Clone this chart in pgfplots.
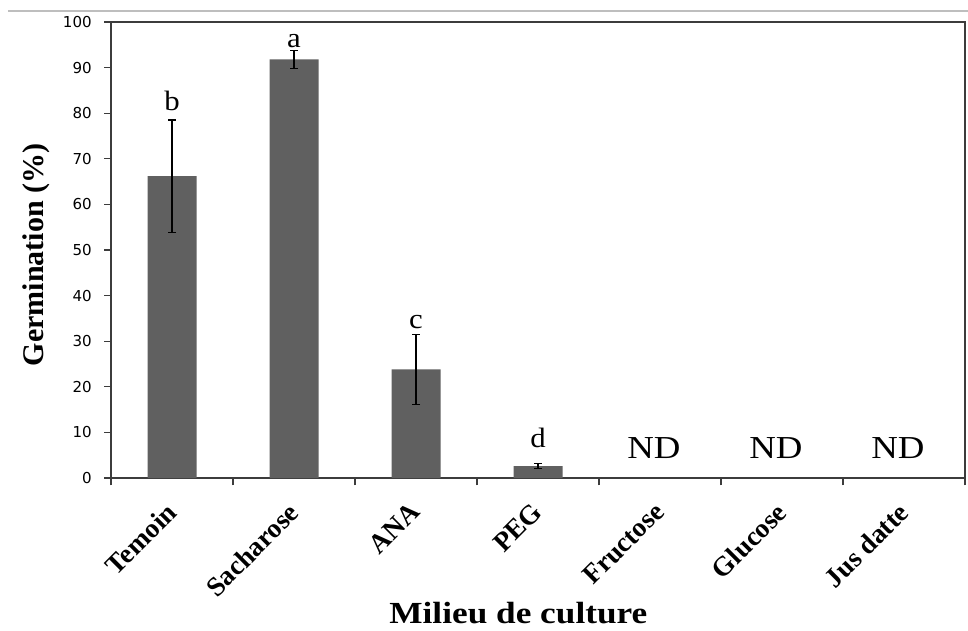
\documentclass[border=0pt]{standalone}
\usepackage{fontspec}
\setmainfont{Liberation Serif}
\newfontfamily\ticksfont{DejaVu Sans}
\usepackage{pgfplots}
\pgfplotsset{compat=1.18}

\definecolor{barfill}{RGB}{96,96,96}
\definecolor{axisline}{RGB}{60,60,60}
\definecolor{topline}{RGB}{190,190,190}

\begin{document}
\begin{tikzpicture}
\begin{axis}[
  name=ax, at={(0,0)}, anchor=south west,
  scale only axis, width=640.5pt, height=342pt,
  xmin=-0.5, xmax=6.5, ymin=0, ymax=100,
  ytick={0,10,...,100},
  xtick={0,...,6},
  xticklabels={Temoin,Sacharose,ANA,PEG,Fructose,Glucose,Jus datte},
  minor xtick={-0.5,0.5,...,6.5},
  tick pos=left, tick align=outside,
  major tick length=5.25pt, minor tick length=5.5pt,
  tick style={axisline, line width=0.9pt},
  major x tick style={draw=none},
  axis line style={axisline, line width=1.1pt},
  /pgf/number format/assume math mode=true,
  yticklabel style={font=\ticksfont\fontsize{11.3}{13}\selectfont, inner sep=0pt, xshift=-9pt},
  xticklabel style={font=\bfseries\fontsize{20.5}{24}\selectfont, rotate=45,
    anchor=north east, inner sep=1pt, xshift=-11.1pt, yshift=-3.7pt},
  xlabel={Milieu de culture},
  ylabel={Germination (\%)},
  x label style={font=\bfseries\fontsize{23}{28}\selectfont, xscale=1.15,
    at={(axis description cs:0.477,-0.318)}, anchor=base},
  y label style={font=\bfseries\fontsize{22.5}{27}\selectfont,
    at={(axis description cs:-0.0796,0.489)}, anchor=base},
  ybar, bar width=36.75pt,
]
% germination rate with standard error
\addplot[fill=barfill, draw=none,
  error bars/.cd, y dir=both, y explicit,
  error bar style={black, line width=0.8pt},
  error mark options={rotate=90, black, line width=0.8pt, mark size=3pt}]
  coordinates {
    (0,66.2) +- (0,12.3)
    (1,91.8) +- (0,2.0)
    (2,23.8) +- (0,7.7)
    (3,2.6)  +- (0,0.6)
  };

% significance letters
\tikzset{sig/.style={font=\fontsize{21}{25}\selectfont, xscale=1.1, anchor=base},
         nd/.style={font=\fontsize{24}{29}\selectfont, xscale=1.15, anchor=base}}
\node[sig] at (axis cs:0,80.5) {b};
\node[sig] at (axis cs:1,94.5) {a};
\node[sig] at (axis cs:2,32.7) {c};
\node[sig] at (axis cs:3,6.6) {d};
% not determined
\node[nd] at (axis cs:3.95,4.2) {ND};
\node[nd] at (axis cs:4.95,4.2) {ND};
\node[nd] at (axis cs:5.95,4.2) {ND};
\end{axis}
\draw[topline, line width=1.2pt]
  ([xshift=-77.25pt, yshift=8.25pt]ax.north west) -- ([xshift=2.25pt, yshift=8.25pt]ax.north east);
\pgfresetboundingbox
\path[use as bounding box]
  ([xshift=-83.25pt, yshift=-114pt]ax.south west) rectangle ([xshift=2.25pt, yshift=16.5pt]ax.north east);
\end{tikzpicture}
\end{document}
